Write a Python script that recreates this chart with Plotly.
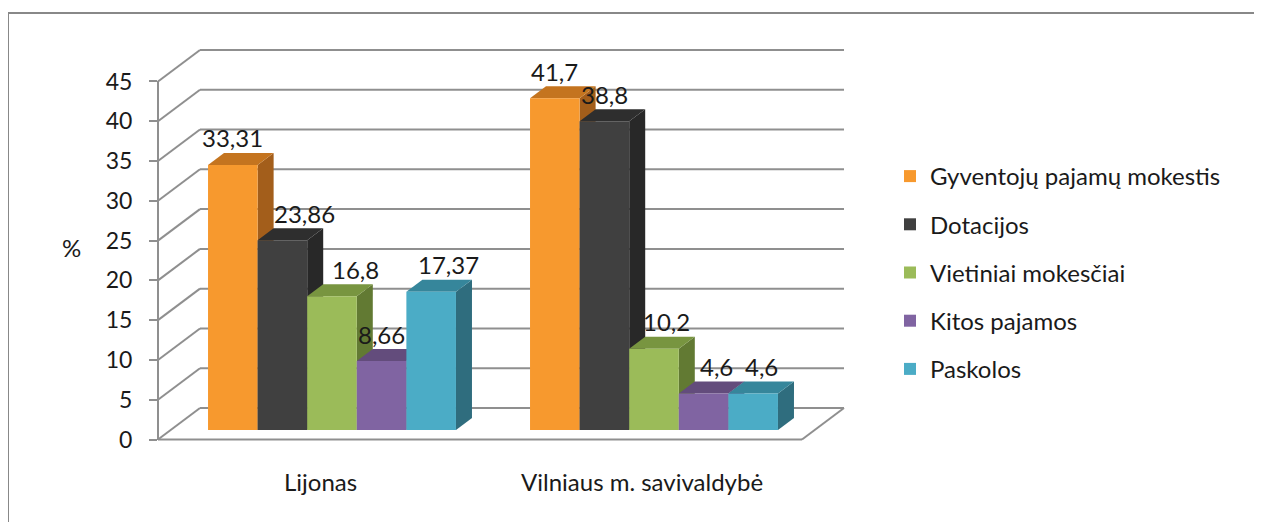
import plotly.graph_objects as go

# ---------------- data ----------------
categories = ["Lijonas", "Vilniaus m. savivaldybė"]
series_names = ["Gyventojų pajamų mokestis", "Dotacijos", "Vietiniai mokesčiai",
                "Kitos pajamos", "Paskolos"]
gyventoju_pajamu = [33.31, 41.7]
dotacijos = [23.86, 38.8]
vietiniai_mokesciai = [16.8, 10.2]
kitos_pajamos = [8.66, 4.6]
paskolos = [17.37, 4.6]
y_tick_values = [0, 5, 10, 15, 20, 25, 30, 35, 40, 45]
y_title = "%"

series_values = [gyventoju_pajamu, dotacijos, vietiniai_mokesciai, kitos_pajamos, paskolos]

# ---------------- styles ----------------
front_colors = ["#F7992E", "#404040", "#9BBB59", "#8064A2", "#4BACC6"]
top_colors = ["#C4741F", "#2E2E2E", "#789540", "#634C7C", "#36869B"]
side_colors = ["#A35E1B", "#282828", "#627A33", "#533F69", "#2F6D7E"]
label_nudge = [[0, 22, 23, 0, 17], [0, 0, 12, 13, 8]]
GRID = "#8F8F8F"
TXT = "#1A1A1A"
FONT = "Lato, Carlito, 'Open Sans', sans-serif"
FS = 24

# page body adds an 8px offset; layout coordinates below are screen pixels
OX, OY = 8, 8
W, H = 1262 - OX, 522 - OY
S = 7.956               # px per value unit
FRONT_X, FRONT_Y0 = 158, 439.5
BACK_DX, BACK_DY = 42, 31.5
FLOOR_RIGHT = 802
BAR_DY = 9.5            # bar plane offset from front (upwards)
DEPTH_DX, DEPTH_DY = 16, 12
CAT0_PX, CAT_STEP = 332, 322
BARGAP = 0.23
BAR_ZERO_PX = FRONT_Y0 - BAR_DY


def px(x):
    return (x - OX) / W


def py(y):
    return 1 - (y - OY) / H


def front_y(v):
    return FRONT_Y0 - v * S


fig = go.Figure()

n = len(series_names)
w = (1 - BARGAP) / n
for j, (name, vals) in enumerate(zip(series_names, series_values)):
    fig.add_trace(go.Bar(
        x=list(range(len(categories))), y=vals, name=name,
        marker=dict(color=front_colors[j], line=dict(width=0)),
        legendgroup=name, hovertext=categories,
    ))

# dummy trace for the front value axis
fig.add_trace(go.Scatter(x=[0], y=[0], xaxis="x2", yaxis="y2", mode="markers",
                         marker=dict(opacity=0), showlegend=False, hoverinfo="skip"))

shapes = []
line = dict(color=GRID, width=2)
# back wall grid + left wall diagonals
for v in y_tick_values:
    yf = front_y(v)
    yb = yf - BACK_DY
    shapes.append(dict(type="line", xref="paper", yref="paper", layer="below",
                       x0=px(FRONT_X + BACK_DX), x1=px(FLOOR_RIGHT + BACK_DX),
                       y0=py(yb), y1=py(yb), line=line))
    shapes.append(dict(type="line", xref="paper", yref="paper", layer="below",
                       x0=px(FRONT_X), x1=px(FRONT_X + BACK_DX),
                       y0=py(yf), y1=py(yb), line=line))
# floor front edge and right edge
shapes.append(dict(type="line", xref="paper", yref="paper", layer="below",
                   x0=px(FRONT_X), x1=px(FLOOR_RIGHT), y0=py(FRONT_Y0), y1=py(FRONT_Y0), line=line))
shapes.append(dict(type="line", xref="paper", yref="paper", layer="below",
                   x0=px(FLOOR_RIGHT), x1=px(FLOOR_RIGHT + BACK_DX),
                   y0=py(FRONT_Y0), y1=py(FRONT_Y0 - BACK_DY), line=line))

# 3D faces of bars (top + side), computed from the data values
ddx = DEPTH_DX / CAT_STEP
ddy = DEPTH_DY / S
annotations = []
for i in range(len(categories)):
    for j in range(n):
        v = series_values[j][i]
        L = i - (1 - BARGAP) / 2 + w * j
        R = L + w
        c = L + w / 2
        shapes.append(dict(type="path", xref="x", yref="y", layer="below",
                           path=f"M{R},0 L{R},{v} L{R+ddx},{v+ddy} L{R+ddx},{ddy} Z",
                           fillcolor=side_colors[j], line=dict(width=0)))
        shapes.append(dict(type="path", xref="x", yref="y", layer="below",
                           path=f"M{L},{v} L{R},{v} L{R+ddx},{v+ddy} L{L+ddx},{v+ddy} Z",
                           fillcolor=top_colors[j], line=dict(width=0)))
        annotations.append(dict(x=c, y=v, xref="x", yref="y", showarrow=False,
                                text=f"{v:g}".replace(".", ","),
                                yanchor="middle", yshift=27, xshift=label_nudge[i][j],
                                font=dict(family=FONT, size=FS, color=TXT)))

# outer chart border
shapes.append(dict(type="rect", xref="paper", yref="paper", layer="above",
                   x0=px(8), x1=px(1257), y0=-0.1, y1=py(13),
                   line=dict(color="#888888", width=2), fillcolor="rgba(0,0,0,0)"))

# category labels
for i, cat in enumerate(categories):
    annotations.append(dict(x=i, y=py(481), xref="x", yref="paper", showarrow=False,
                            text=cat, xshift=-12, yanchor="middle",
                            font=dict(family=FONT, size=FS, color=TXT)))
# axis title
annotations.append(dict(x=px(60), y=py(247), xref="paper", yref="paper", showarrow=False,
                        text=y_title, font=dict(family=FONT, size=FS, color=TXT)))

xr = [(OX - CAT0_PX) / CAT_STEP, (OX + W - CAT0_PX) / CAT_STEP]
yr = [(BAR_ZERO_PX - (OY + H)) / S, (BAR_ZERO_PX - OY) / S]

fig.update_layout(
    width=W, height=H, autosize=False,
    margin=dict(l=0, r=0, t=0, b=0, pad=0, autoexpand=False),
    paper_bgcolor="white", plot_bgcolor="rgba(0,0,0,0)",
    barmode="group", bargap=BARGAP, bargroupgap=0,
    font=dict(family=FONT, size=FS, color=TXT),
    xaxis=dict(domain=[0, 1], range=xr, visible=False, fixedrange=True, automargin=False),
    yaxis=dict(domain=[0, 1], range=yr, visible=False, fixedrange=True, automargin=False),
    xaxis2=dict(domain=[0, 1], range=[-1, 1], visible=False, anchor="y2", automargin=False),
    yaxis2=dict(domain=[py(FRONT_Y0), py(front_y(45))], range=[0, 45],
                anchor="free", position=px(FRONT_X), side="left",
                tickvals=y_tick_values, ticks="outside", ticklen=8,
                tickwidth=2, tickcolor=GRID, showline=True, linecolor=GRID,
                linewidth=2, showgrid=False, zeroline=False, automargin=False,
                ticklabelstandoff=12,
                tickfont=dict(family=FONT, size=FS - 1, color=TXT)),
    showlegend=True,
    legend=dict(x=px(890), y=py(154), xanchor="left", yanchor="top",
                font=dict(family=FONT, size=FS, color=TXT),
                tracegroupgap=14, bgcolor="rgba(0,0,0,0)"),
    shapes=shapes, annotations=annotations,
)

fig.write_html("out.html")
